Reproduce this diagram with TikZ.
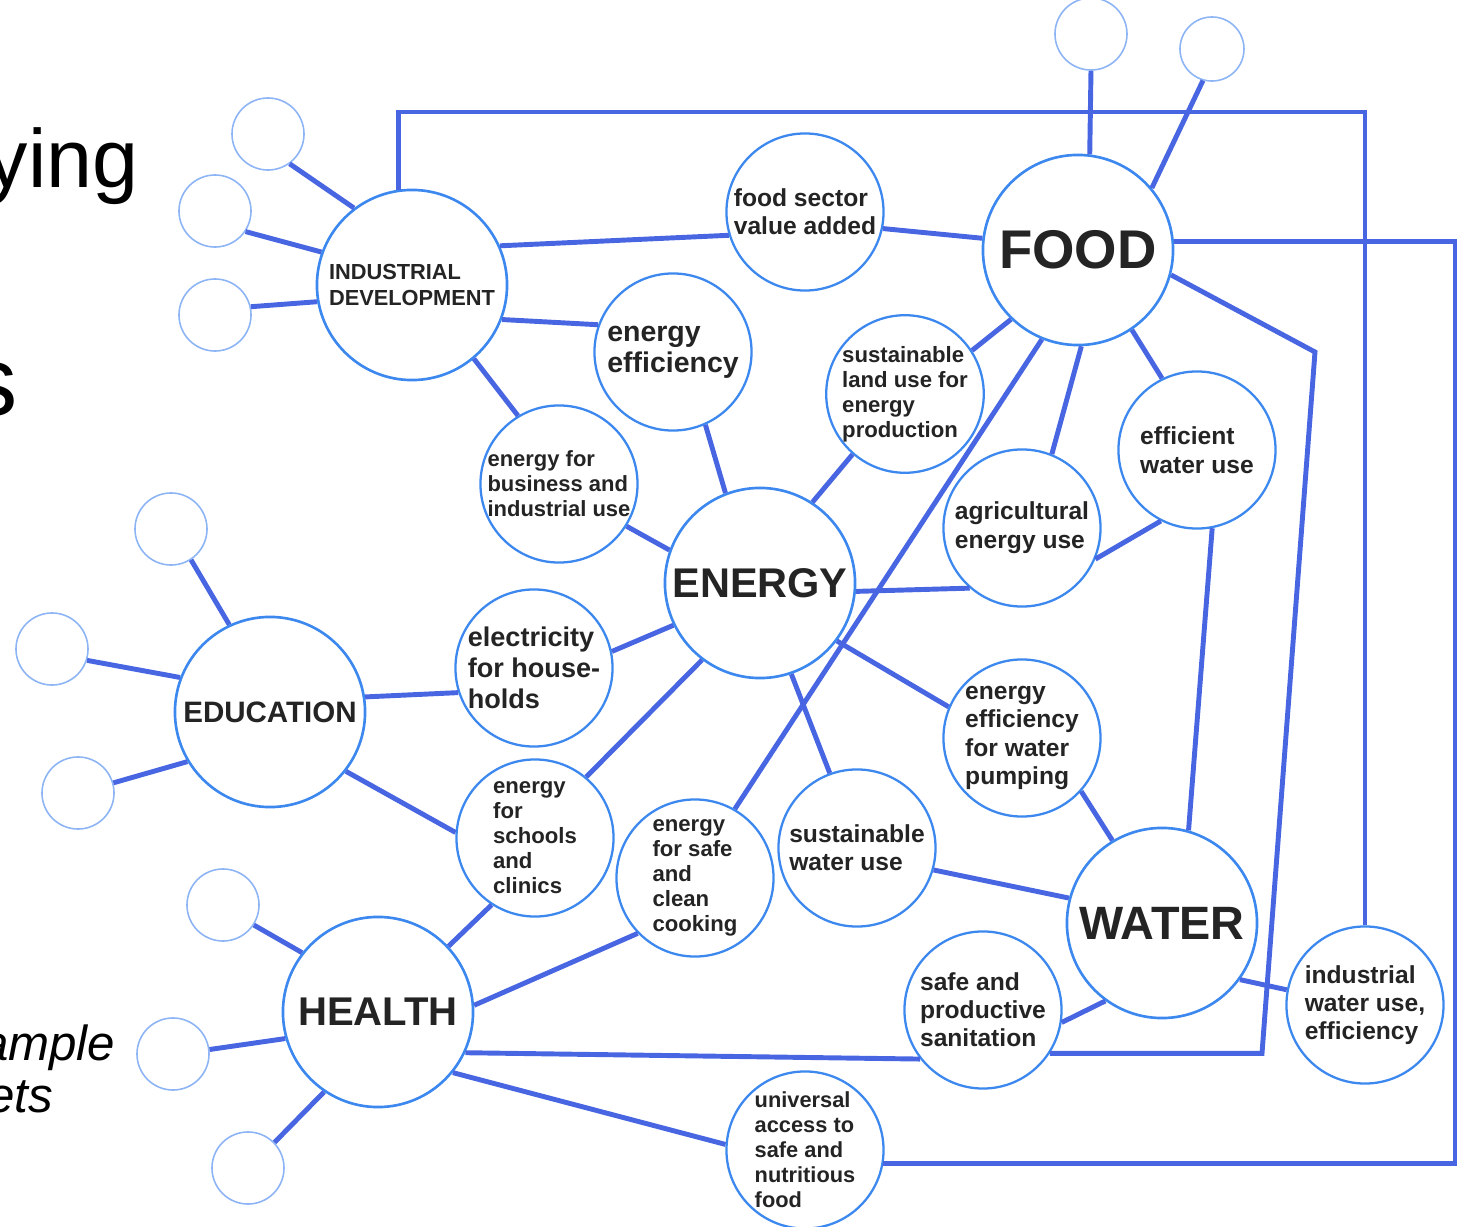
\documentclass[tikz,border=0pt]{standalone}
\usepackage{fontspec}
\setmainfont{Liberation Sans}
\usetikzlibrary{positioning}

\definecolor{ringblue}{HTML}{3C88EE}
\definecolor{linkblue}{HTML}{4866E2}
\definecolor{stubblue}{HTML}{8DB4F4}
\definecolor{inkgray}{HTML}{242424}

\tikzset{
  hub/.style={circle, draw=ringblue, line width=0.75pt, fill=white, minimum size=1.9cm, inner sep=0pt, text=inkgray, align=left},
  goal/.style={circle, draw=ringblue, line width=0.65pt, fill=white, minimum size=1.57cm, inner sep=0pt, text=inkgray, align=left},
  stub/.style={circle, draw=stubblue, line width=0.45pt, minimum size=0.72cm, inner sep=0pt},
  link/.style={draw=linkblue, line width=1.4pt},
  slide/.style={inner sep=0pt, text=black}
}

\begin{document}
\begin{tikzpicture}[x=0.01cm, y=-0.01cm]
    \useasboundingbox (0,0) rectangle (1462,1227);
    \clip (0,0) rectangle (1462,1227);

    % slide text cut off at the left edge
    \node [slide, anchor=base west, font=\fontsize{23.5}{28}\selectfont] (slideA) at (-14,187) {ying};
    \node [slide, anchor=base east, font=\fontsize{28}{32}\selectfont] (slideB) at (18,416) {s};
    \node [slide, anchor=base east, font=\itshape\fontsize{14}{16}\selectfont] (slideC) at (116,1060) {ample};
    \node [slide, anchor=base east, font=\itshape\fontsize{14}{16}\selectfont] (slideD) at (54,1113) {ets};

    % Main topics
    \node [hub, font=\bfseries\fontsize{6.2}{7.4}\selectfont] (ind) at (412,285) {INDUSTRIAL\\DEVELOPMENT};
    \node [hub, font=\bfseries\fontsize{15.5}{17}\selectfont] (food) at (1078,250) {FOOD};
    \node [hub, font=\bfseries\fontsize{11.8}{13}\selectfont] (energy) at (760,583) {ENERGY};
    \node [hub, font=\bfseries\fontsize{8.4}{10}\selectfont] (edu) at (270,712) {EDUCATION};
    \node [hub, font=\bfseries\fontsize{13.3}{15}\selectfont] (water) at (1162,923) {WATER};
    \node [hub, font=\bfseries\fontsize{11.4}{13}\selectfont] (health) at (378,1012) {HEALTH};

    % Targets
    \node [goal, font=\bfseries\fontsize{7}{8}\selectfont] (fsv) at (805,212) {food sector\\value added};
    \node [goal, font=\bfseries\fontsize{8.1}{8.8}\selectfont] (eeff) at (673,352) {energy\\efficiency};
    \node [goal, font=\bfseries\fontsize{6.3}{7.1}\selectfont] (sland) at (905,394) {sustainable\\land use for\\energy\\production};
    \node [goal, font=\bfseries\fontsize{7}{8.2}\selectfont] (ewu) at (1197,450) {efficient\\water use};
    \node [goal, font=\bfseries\fontsize{6.25}{7.1}\selectfont] (ebiz) at (559,484) {energy for\\business and\\industrial use};
    \node [goal, font=\bfseries\fontsize{7}{8.3}\selectfont] (agri) at (1022,528) {agricultural\\energy use};
    \node [goal, font=\bfseries\fontsize{7.7}{8.8}\selectfont] (elec) at (534,668) {electricity\\for house-\\holds};
    \node [goal, font=\bfseries\fontsize{7}{8}\selectfont] (pump) at (1022,738) {energy\\efficiency\\for water\\pumping};
    \node [goal, font=\bfseries\fontsize{6.3}{7.1}\selectfont] (school) at (535,838) {energy\\for\\schools\\and\\clinics};
    \node [goal, font=\bfseries\fontsize{6.3}{7.1}\selectfont] (cook) at (695,878) {energy\\for safe\\and\\clean\\cooking};
    \node [goal, font=\bfseries\fontsize{7}{8}\selectfont] (swu) at (857,848) {sustainable\\water use};
    \node [goal, font=\bfseries\fontsize{7}{8}\selectfont] (sanit) at (983,1010) {safe and\\productive\\sanitation};
    \node [goal, font=\bfseries\fontsize{7}{8}\selectfont] (iwu) at (1365,1005) {industrial\\water use,\\efficiency};
    \node [goal, font=\bfseries\fontsize{6.2}{7.1}\selectfont] (univ) at (805,1150) {universal\\access to\\safe and\\nutritious\\food};

    % Empty circles
    \node [stub] (ind1) at (268,134) {};
    \node [stub] (ind2) at (215,211) {};
    \node [stub] (ind3) at (215,315) {};
    \node [stub] (food1) at (1091,34) {};
    \node [stub, minimum size=0.64cm] (food2) at (1212,49) {};
    \node [stub] (edu1) at (171,529) {};
    \node [stub] (edu2) at (52,649) {};
    \node [stub] (edu3) at (78,793) {};
    \node [stub] (health1) at (223,905) {};
    \node [stub] (health2) at (173,1054) {};
    \node [stub] (health3) at (248,1168) {};

    % Corners of the long links
    \coordinate (topY) at (0,112);
    \coordinate (rightX) at (1455,0);
    \coordinate (fbend) at (1315,352);
    \coordinate (sbendX) at (1262,0);

    % Links
    \draw [link] (ind.127) -- (ind1.-54);
    \draw [link] (ind.160) -- (ind2.-34);
    \draw [link] (ind.-170) -- (ind3.13);
    \draw [link] (ind.24) -- (fsv.-163);
    \draw [link] (fsv.-12) -- (food.173);
    \draw [link] (ind.-21) -- (eeff.160);
    \draw [link] (ind.-50) -- (ebiz.121);
    \draw [link] (eeff.-66) -- (energy.111);
    \draw [link] (sland.-131) -- (energy.57);
    \draw [link] (food.-134) -- (sland.33);
    \draw [link] (ebiz.-32) -- (energy.160);
    \draw [link] (energy.-5) -- (agri.-131);
    \draw [link] (ewu.-117) -- (agri.-23);
    \draw [link] (food.-88) -- (agri.68);
    \draw [link] (food.-56) -- (ewu.116);
    \draw [link] (food.-112) -- (cook.60);
    \draw [link] (energy.-154) -- (elec.12);
    \draw [link] (edu.9) -- (elec.-162);
    \draw [link] (edu.115) -- (edu1.-57);
    \draw [link] (edu.159) -- (edu2.-18);
    \draw [link] (edu.-149) -- (edu3.16);
    \draw [link] (edu.-38) -- (school.176);
    \draw [link] (energy.-127) -- (school.50);
    \draw [link] (energy.-71) -- (swu.110);
    \draw [link] (energy.-37) -- (pump.157);
    \draw [link] (pump.-42) -- (water.121);
    \draw [link] (swu.-16) -- (water.165);
    \draw [link] (ewu.-79) -- (water.74);
    \draw [link] (water.-126) -- (sanit.-9);
    \draw [link] (water.-36) -- (iwu.169);
    \draw [link] (health.43) -- (school.-123);
    \draw [link] (health.4) -- (cook.-136);
    \draw [link] (health.142) -- (health1.-33);
    \draw [link] (health.-164) -- (health2.7);
    \draw [link] (health.-124) -- (health3.44);
    \draw [link] (health.-39) -- (univ.176);
    \draw [link] (health.-25) -- (sanit.-142);
    \draw [link] (food.83) -- (food1.-90);
    \draw [link] (food.40) -- (food2.-106);
    \draw [link] (ind.98) |- (iwu.90 |- topY) -- (iwu.90);
    \draw [link] (food.5) -| (rightX |- univ.-10) -- (univ.-10);
    \draw [link] (food.-15) -- (fbend) -- (sbendX |- sanit.-33) -- (sanit.-33);
\end{tikzpicture}
\end{document}
